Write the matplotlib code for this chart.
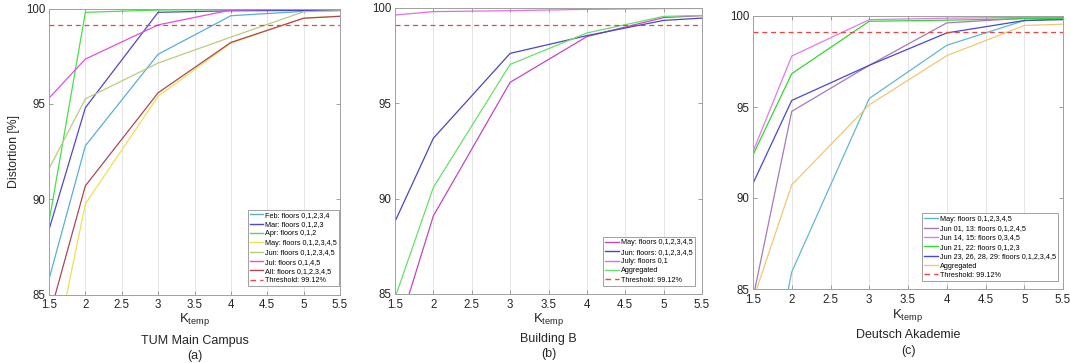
import matplotlib
matplotlib.use("Agg")
import matplotlib.pyplot as plt
from matplotlib.ticker import FormatStrFormatter

plt.rcParams['font.family'] = ['Liberation Sans', 'DejaVu Sans']
plt.rcParams['mathtext.default'] = 'regular'

# ---------------- data ----------------
k_temp = [1.5, 2, 3, 4, 5, 5.5]
threshold = 99.12

# (a) TUM Main Campus
a_labels = ["Feb: floors 0,1,2,3,4", "Mar: floors 0,1,2,3", "Apr: floors 0,1,2",
            "May: floors 0,1,2,3,4,5", "Jun: floors 0,1,2,3,4,5", "Jul: floors 0,1,4,5",
            "All: floors 0,1,2,3,4,5"]
a_feb = [85.8, 92.8, 97.6, 99.62, 99.85, 99.9]
a_mar = [88.4, 94.8, 99.8, 99.88, 99.9, 99.9]
a_apr = [88.8, 99.8, 99.92, 99.95, 99.96, 99.96]
a_may = [80.5, 89.75, 95.4, 98.18, 99.5, 99.6]
a_jun = [91.6, 95.26, 97.14, 98.5, 99.83, 99.88]
a_jul = [95.3, 97.35, 99.14, 99.92, 99.97, 99.97]
a_all = [83.8, 90.7, 95.58, 98.22, 99.49, 99.59]
a_colors = ['#5aaed6', '#5048c8', '#48e048', '#f0e050', '#b8cc80', '#e050e0', '#a84858']

# (b) Building B
b_labels = ["May: floors 0,1,2,3,4,5", "Jun: floors: 0,1,2,3,4,5", "July: floors 0,1", "Aggregated"]
b_may = [82.6, 89.1, 96.1, 98.5, 99.5, 99.6]
b_jun = [88.8, 93.17, 97.62, 98.55, 99.35, 99.47]
b_july = [99.63, 99.81, 99.86, 99.93, 99.97, 99.98]
b_agg = [84.8, 90.59, 97.04, 98.69, 99.56, 99.61]
b_colors = ['#c048c0', '#4848c0', '#e070e0', '#68e068']

# (c) Deutsch Akademie
c_labels = ["May: floors 0,1,2,3,4,5", "Jun 01, 13: floors 0,1,2,4,5", "Jun 14, 15: floors 0,3,4,5",
            "Jun 21, 22: floors 0,1,2,3", "Jun 23, 26, 28, 29: floors 0,1,2,3,4,5", "Aggregated"]
c_may = [75.4, 85.94, 95.47, 98.39, 99.75, 99.85]
c_jun0113 = [84.5, 94.76, 97.29, 99.62, 99.88, 99.92]
c_jun1415 = [92.55, 97.8, 99.8, 99.88, 99.92, 99.94]
c_jun2122 = [92.37, 96.83, 99.71, 99.77, 99.85, 99.88]
c_jun23 = [90.8, 95.36, 97.29, 99.07, 99.75, 99.8]
c_agg = [84.4, 90.72, 95.12, 97.82, 99.48, 99.55]
c_colors = ['#60b8d0', '#a878b8', '#e878e8', '#30d830', '#4848d0', '#f0c870']

x_ticks = [1.5, 2, 2.5, 3, 3.5, 4, 4.5, 5, 5.5]
y_ticks = [85, 90, 95, 100]

# ---------------- figure ----------------
W, H = 1070, 363
fig = plt.figure(figsize=(W / 100, H / 100), dpi=100)

def px_axes(l, r, t, b):
    return fig.add_axes([l / W, 1 - b / H, (r - l) / W, (b - t) / H])

panels = [
    dict(box=(49, 340, 8.5, 294.5), series=[a_feb, a_mar, a_apr, a_may, a_jun, a_jul, a_all],
         labels=a_labels, colors=a_colors, leg=(0.997, 0.028), name="TUM Main Campus", tag="(a)",
         ylabel=True, ky=320, ny=341, ty=356),
    dict(box=(395, 702, 8, 294), series=[b_may, b_jun, b_july, b_agg],
         labels=b_labels, colors=b_colors, leg=(0.977, 0.028), name="Building B", tag="(b)",
         ylabel=False, ky=319, ny=339, ty=354),
    dict(box=(753, 1063, 16, 289), series=[c_may, c_jun0113, c_jun1415, c_jun2122, c_jun23, c_agg],
         labels=c_labels, colors=c_colors, leg=(0.984, 0.029), name="Deutsch Akademie", tag="(c)",
         ylabel=False, ky=315, ny=335, ty=351),
]

for p in panels:
    l, r, t, b = p['box']
    ax = px_axes(l, r, t, b)
    for vals, lab, col in zip(p['series'], p['labels'], p['colors']):
        ax.plot(k_temp, vals, color=col, lw=0.9, label=lab)
    ax.axhline(threshold, color='#ee4444', lw=0.9, ls=(0, (4, 3)), label="Threshold: 99.12%")
    ax.set_xlim(1.5, 5.5)
    ax.set_ylim(85, 100)
    ax.set_xticks(x_ticks)
    ax.set_yticks(y_ticks)
    ax.xaxis.set_major_formatter(FormatStrFormatter('%g'))
    ax.tick_params(direction='in', top=True, right=True, length=3, width=0.6,
                   colors='#909090', labelcolor='#262626', labelsize=8.3)
    ax.tick_params(axis='x', pad=3.6)
    ax.tick_params(axis='y', pad=2.6)
    ax.grid(axis='x', color='#e0e0e0', lw=0.6)
    ax.set_axisbelow(True)
    for s in ax.spines.values():
        s.set_color('#a0a0a0')
        s.set_linewidth(0.7)
    leg = ax.legend(loc='lower right', bbox_to_anchor=p['leg'], fontsize=5.2,
                    frameon=True, fancybox=False, edgecolor='#909090', framealpha=1,
                    borderaxespad=0, borderpad=0.3, labelspacing=0.32,
                    handlelength=1.9, handletextpad=0.25)
    leg.get_frame().set_linewidth(0.6)
    for ln in leg.get_lines():
        ln.set_linewidth(1.0)
    if p['ylabel']:
        ax.set_ylabel("Distortion [%]", fontsize=8.8, color='#262626')
        ax.yaxis.set_label_coords(-29 / (r - l), 0.5)
    cx = (l + r) / 2 / W
    fig.text(cx, 1 - p['ky'] / H, "K$_{temp}$", ha='center', va='center', fontsize=9.5, color='#262626')
    fig.text(cx, 1 - p['ny'] / H, p['name'], ha='center', va='center', fontsize=9, color='#262626')
    fig.text(cx, 1 - p['ty'] / H, p['tag'], ha='center', va='center', fontsize=9, color='#262626')

fig.savefig("out.png", dpi=100)
